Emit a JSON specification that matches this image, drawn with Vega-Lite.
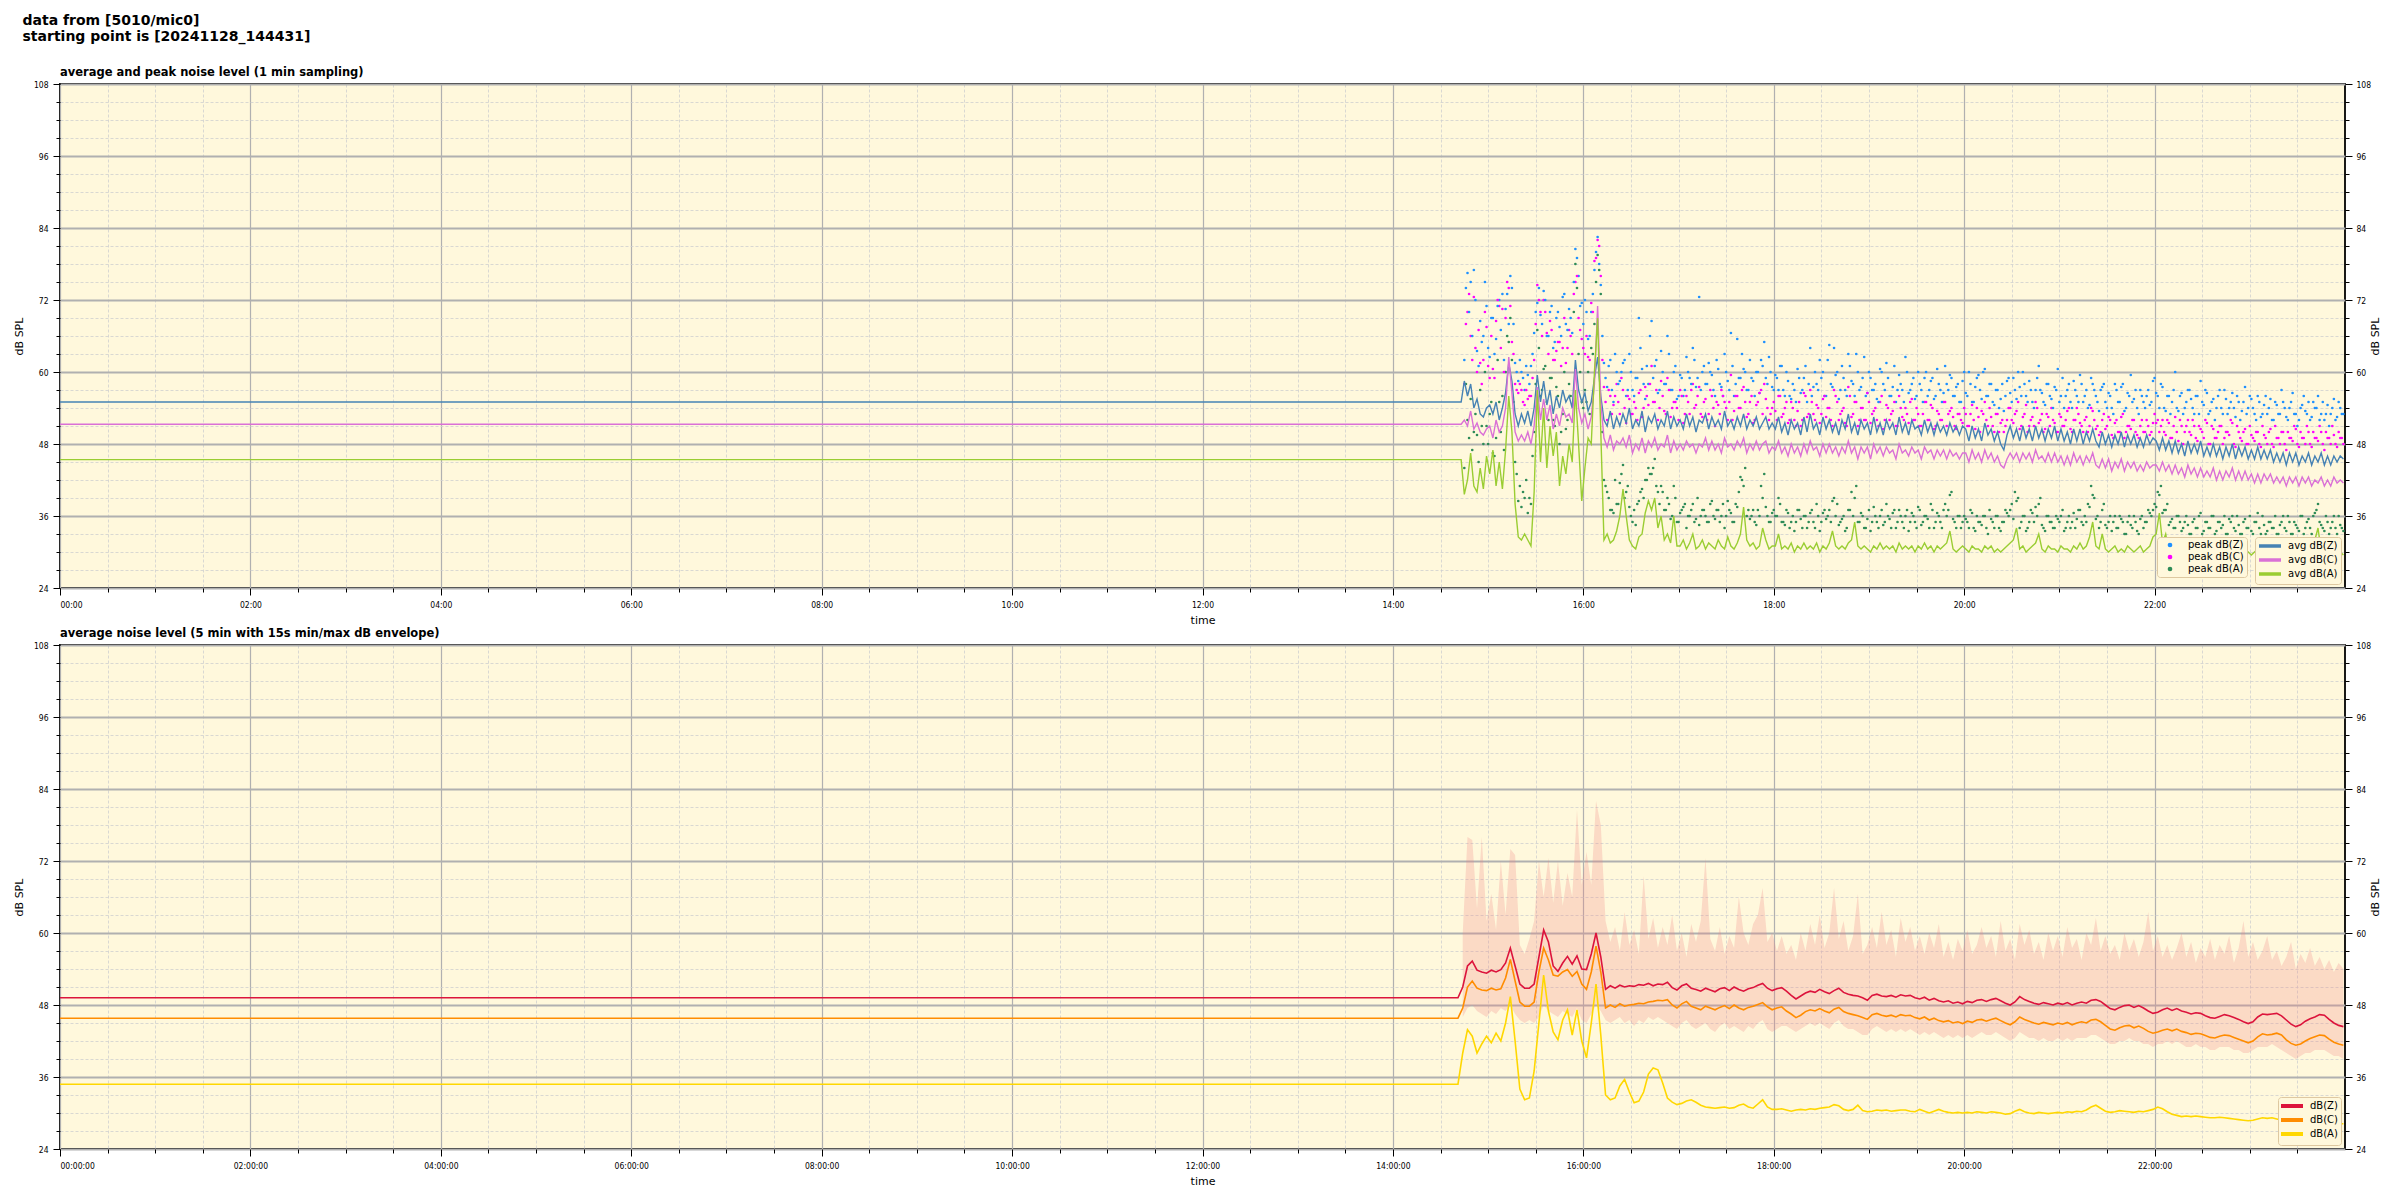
{
"$schema": "https://vega.github.io/schema/vega-lite/v6.json",
"padding": {"left": 12, "top": 13, "right": 5, "bottom": 5},
"background": "white",
"title": {"text": ["data from [5010/mic0]", "starting point is [20241128_144431]"], "anchor": "start", "frame": "bounds", "font": "DejaVu Sans", "fontSize": 14, "fontWeight": "bold", "lineHeight": 16, "dx": 10, "offset": 22, "color": "black"},
"spacing": -1,
"config": {
  "font": "DejaVu Sans",
  "view": {"fill": "#FFF8DC", "stroke": "black", "strokeWidth": 1.8},
  "axis": {"labelFont": "DejaVu Sans Condensed", "labelFontSize": 8.5, "labelColor": "black", "tickColor": "black", "titleFont": "DejaVu Sans", "titleFontWeight": "normal", "titleFontSize": 11, "titleColor": "black", "labelOverlap": false, "domain": false},
  "title": {"font": "DejaVu Sans", "fontSize": 11.5, "fontWeight": "bold", "anchor": "start", "color": "black", "offset": 2},
  "legend": {"labelFont": "DejaVu Sans", "labelFontSize": 10, "labelColor": "black", "fillColor": "#FFF8DC", "strokeColor": "#DEC8A0", "cornerRadius": 3, "padding": 3, "orient": "bottom-right", "offset": 4, "rowPadding": 0}
},
"datasets": {
"top": [
{"m":0,"z":55.0,"c":51.3,"a":45.4},{"m":883,"z":55.0,"c":51.3,"a":45.4},
{"m":885,"z":58.5,"c":52,"a":39.6,"pz":62,"pc":58,"pa":44},
{"m":887,"z":56,"c":51,"a":42,"pz":76.5,"pc":70,"pa":52},
{"m":889,"z":58,"c":53.5,"a":46.5,"pz":75,"pc":66,"pa":55.5},
{"m":891,"z":54,"c":50.5,"a":41,"pz":77,"pc":72.5,"pa":50},
{"m":893,"z":55.5,"c":51.5,"a":40,"pz":63.5,"pc":60,"pa":49.5},
{"m":895,"z":53,"c":50,"a":44,"pz":68.5,"pc":61.5,"pa":57},
{"m":897,"z":52.5,"c":49.5,"a":40.5,"pz":66,"pc":62,"pa":48},
{"m":899,"z":54,"c":50.5,"a":46,"pz":71,"pc":67.5,"pa":51},
{"m":901,"z":54.5,"c":51,"a":43,"pz":62.5,"pc":59,"pa":53},
{"m":903,"z":53,"c":49,"a":47,"pz":69,"pc":60.5,"pa":46.5},
{"m":905,"z":55,"c":52,"a":41,"pz":65.5,"pc":68.5,"pa":49},
{"m":907,"z":52,"c":50,"a":45,"pz":72,"pc":71,"pa":55},
{"m":909,"z":54,"c":51,"a":40.5,"pz":73,"pc":70.5,"pa":56},
{"m":911,"z":56.5,"c":54,"a":47,"pz":70.5,"pc":69,"pa":60},
{"m":913,"z":61.5,"c":62.5,"a":56,"pz":68,"pc":74,"pa":65},
{"m":915,"z":58.5,"c":56.5,"a":50,"pz":74,"pc":65,"pa":62},
{"m":917,"z":53,"c":50,"a":38,"pz":61.5,"pc":58,"pa":45},
{"m":919,"z":51,"c":48.5,"a":32.5,"pz":58.5,"pc":56.5,"pa":38.5},
{"m":921,"z":53,"c":49.5,"a":32,"pz":60,"pc":57,"pa":37.5},
{"m":923,"z":51.5,"c":48.5,"a":33,"pz":57,"pc":54.5,"pa":39},
{"m":925,"z":53.5,"c":50,"a":32,"pz":59.5,"pc":55.5,"pa":36.5},
{"m":927,"z":51,"c":48,"a":31,"pz":61,"pc":56,"pa":38},
{"m":929,"z":54,"c":51,"a":40,"pz":66.5,"pc":62,"pa":50},
{"m":931,"z":59.5,"c":57.5,"a":57,"pz":71.5,"pc":74.5,"pa":67},
{"m":933,"z":55,"c":52,"a":45,"pz":69.5,"pc":70,"pa":56},
{"m":935,"z":58.5,"c":55.5,"a":54,"pz":73.5,"pc":72,"pa":60.5},
{"m":937,"z":54.5,"c":52,"a":44,"pz":66,"pc":66.5,"pa":55},
{"m":939,"z":57,"c":54.5,"a":51,"pz":70,"pc":68.5,"pa":59},
{"m":941,"z":53,"c":50.5,"a":46,"pz":64,"pc":62,"pa":52},
{"m":943,"z":56,"c":53,"a":50,"pz":69,"pc":63.5,"pa":57.5},
{"m":945,"z":54,"c":51,"a":41,"pz":67.5,"pc":65,"pa":48},
{"m":947,"z":57,"c":54,"a":46,"pz":72.5,"pc":64,"pa":53},
{"m":949,"z":55,"c":52.5,"a":43,"pz":68,"pc":61.5,"pa":50.5},
{"m":951,"z":56,"c":53,"a":48,"pz":70.5,"pc":67,"pa":58},
{"m":953,"z":54,"c":51.5,"a":45,"pz":66.5,"pc":63,"pa":54.5},
{"m":955,"z":62,"c":60.5,"a":57,"pz":80.5,"pc":75,"pa":78},
{"m":957,"z":57,"c":54,"a":48,"pz":76,"pc":69,"pa":63},
{"m":959,"z":55,"c":51.5,"a":38.5,"pz":71.5,"pc":65.5,"pa":55},
{"m":961,"z":56.5,"c":53,"a":44,"pz":72,"pc":63,"pa":57},
{"m":963,"z":53.5,"c":50.5,"a":49,"pz":65.5,"pc":62.5,"pa":60},
{"m":965,"z":55,"c":52.5,"a":48,"pz":70,"pc":71.5,"pa":64},
{"m":967,"z":59,"c":58,"a":60,"pz":77,"pc":78.5,"pa":68},
{"m":969,"z":62.5,"c":71,"a":69,"pz":82.5,"pc":82,"pa":79.5},
{"m":971,"z":56,"c":55,"a":50,"pz":74.5,"pc":76,"pa":73},
{"m":973,"z":52,"c":49,"a":32,"pz":61.5,"pc":57.5,"pa":42},
{"m":975,"z":51,"c":47.5,"a":33,"pz":57.5,"pc":52,"pa":40},
{"m":977,"z":53.5,"c":49.5,"a":31.5,"pz":62,"pc":56,"pa":37},
{"m":979,"z":50.5,"c":47,"a":32,"pz":55,"pc":54.5,"pa":36.5},
{"m":981,"z":52.5,"c":48.5,"a":33.5,"pz":60,"pc":58,"pa":38},
{"m":983,"z":51,"c":48,"a":36,"pz":58.5,"pc":53,"pa":41.5},
{"m":985,"z":53,"c":49,"a":40.5,"pz":61.5,"pc":57,"pa":44.5},
{"m":987,"z":51.5,"c":47.5,"a":36,"pz":56,"pc":51.5,"pa":40},
{"m":989,"z":54,"c":49.5,"a":32,"pz":63,"pc":55.5,"pa":37.5},
{"m":991,"z":50.5,"c":46.5,"a":31,"pz":57,"pc":53,"pa":35},
{"m":993,"z":52,"c":48,"a":30.5,"pz":59,"pc":54,"pa":34.5},
{"m":995,"z":51,"c":47,"a":32.5,"pz":69,"pc":56.5,"pa":38.5},
{"m":997,"z":53.5,"c":49,"a":33,"pz":60.5,"pc":52.5,"pa":40.5},
{"m":999,"z":50,"c":46.5,"a":36.5,"pz":55.5,"pc":57.5,"pa":42},
{"m":1001,"z":52.5,"c":48.5,"a":38.5,"pz":58,"pc":54.5,"pa":44},
{"m":1003,"z":51.5,"c":47.5,"a":37,"pz":68.5,"pc":61,"pa":43},
{"m":1005,"z":53,"c":49,"a":39,"pz":61,"pc":55,"pa":45.5},
{"m":1007,"z":50.5,"c":47,"a":34,"pz":56.5,"pc":52,"pa":40},
{"m":1009,"z":52,"c":48,"a":36,"pz":63.5,"pc":58.5,"pa":41},
{"m":1011,"z":51,"c":47.5,"a":32,"pz":58,"pc":53.5,"pa":37},
{"m":1013,"z":53.5,"c":49.5,"a":33,"pz":66,"pc":59,"pa":39},
{"m":1015,"z":50.5,"c":46.5,"a":31.5,"pz":57,"pc":52.5,"pa":35.5},
{"m":1017,"z":52.5,"c":48.5,"a":36,"pz":60,"pc":55,"pa":41},
{"m":1019,"z":51,"c":47,"a":31,"pz":55.5,"pc":54,"pa":35},
{"m":1021,"z":52,"c":48,"a":31,"pz":59.5,"pc":57,"pa":36.5},
{"m":1023,"z":50.5,"c":47,"a":32,"pz":56,"pc":51.5,"pa":37.5},
{"m":1025,"z":53,"c":48.5,"a":30.5,"pz":62.5,"pc":56,"pa":34},
{"m":1027,"z":51,"c":47.5,"a":31.5,"pz":59,"pc":53,"pa":36},
{"m":1029,"z":52.5,"c":48,"a":33,"pz":64,"pc":58,"pa":38},
{"m":1031,"z":50,"c":46.5,"a":30.5,"pz":57.5,"pc":54.5,"pa":35.5},
{"m":1033,"z":52,"c":48,"a":31,"pz":72.5,"pc":57.5,"pa":34.5},
{"m":1035,"z":51.5,"c":47.5,"a":32,"pz":60,"pc":52.5,"pa":37},
{"m":1037,"z":53,"c":49,"a":30.5,"pz":58,"pc":55.5,"pa":36},
{"m":1039,"z":50.5,"c":47,"a":31.5,"pz":61.5,"pc":53,"pa":35},
{"m":1041,"z":52.5,"c":48.5,"a":31,"pz":59.5,"pc":56,"pa":38.5},
{"m":1043,"z":51,"c":47,"a":30.5,"pz":56,"pc":51,"pa":35.5},
{"m":1045,"z":52,"c":48,"a":32,"pz":60.5,"pc":54.5,"pa":37},
{"m":1047,"z":50.5,"c":46.5,"a":31,"pz":57.5,"pc":57,"pa":36},
{"m":1049,"z":53.5,"c":49,"a":30.5,"pz":63,"pc":55,"pa":34},
{"m":1051,"z":51,"c":47.5,"a":32.5,"pz":58.5,"pc":52,"pa":38.5},
{"m":1053,"z":52,"c":48,"a":31,"pz":66.5,"pc":59.5,"pa":36.5},
{"m":1055,"z":50.5,"c":47,"a":30.5,"pz":56,"pc":53.5,"pa":35},
{"m":1057,"z":52.5,"c":48.5,"a":31.5,"pz":65.5,"pc":56,"pa":37.5},
{"m":1059,"z":51,"c":47.5,"a":33,"pz":59,"pc":54,"pa":42.5},
{"m":1061,"z":53,"c":49,"a":37.5,"pz":60.5,"pc":57.5,"pa":41},
{"m":1063,"z":50.5,"c":46.5,"a":32,"pz":57,"pc":52.5,"pa":36},
{"m":1065,"z":52,"c":48,"a":31,"pz":62,"pc":55,"pa":35.5},
{"m":1067,"z":51,"c":47,"a":31.5,"pz":58.5,"pc":51.5,"pa":37},
{"m":1069,"z":52.5,"c":48.5,"a":30.5,"pz":60,"pc":54.5,"pa":34.5},
{"m":1071,"z":50.5,"c":47,"a":31,"pz":56.5,"pc":56.5,"pa":36},
{"m":1073,"z":51.5,"c":48,"a":34,"pz":61,"pc":53,"pa":39},
{"m":1075,"z":52.5,"c":48.5,"a":32,"pz":59,"pc":55.5,"pa":37.5},
{"m":1077,"z":50.5,"c":46.5,"a":30.5,"pz":62.5,"pc":52,"pa":35},
{"m":1079,"z":51.5,"c":47.5,"a":31,"pz":57.5,"pc":54,"pa":36.5},
{"m":1081,"z":50.5,"c":47,"a":31,"pz":59.5,"pc":53.5,"pa":36},
{"m":1083,"z":52.5,"c":48.5,"a":33,"pz":57,"pc":56,"pa":39},
{"m":1085,"z":50,"c":46.5,"a":30.5,"pz":61,"pc":52.5,"pa":35},
{"m":1087,"z":51.5,"c":47.5,"a":31,"pz":56,"pc":54,"pa":34.5},
{"m":1089,"z":49.5,"c":46,"a":30.5,"pz":58.5,"pc":51.5,"pa":36.5},
{"m":1091,"z":52,"c":48,"a":31.5,"pz":55.5,"pc":55,"pa":35},
{"m":1093,"z":50.5,"c":46.5,"a":30,"pz":57,"pc":52,"pa":33.5},
{"m":1095,"z":51.5,"c":47.5,"a":31,"pz":60.5,"pc":53.5,"pa":37},
{"m":1097,"z":49.5,"c":46,"a":30.5,"pz":56.5,"pc":51,"pa":35.5},
{"m":1099,"z":52.5,"c":48,"a":31.5,"pz":59,"pc":56.5,"pa":36},
{"m":1101,"z":50,"c":46.5,"a":30.5,"pz":55,"pc":52.5,"pa":34},
{"m":1103,"z":53,"c":48.5,"a":31,"pz":64,"pc":57,"pa":36.5},
{"m":1105,"z":50.5,"c":47,"a":30.5,"pz":57.5,"pc":53,"pa":35},
{"m":1107,"z":51.5,"c":47.5,"a":31.5,"pz":58,"pc":54.5,"pa":38},
{"m":1109,"z":49.5,"c":46,"a":30,"pz":62,"pc":51.5,"pa":33.5},
{"m":1111,"z":52.5,"c":48,"a":31,"pz":60,"pc":55.5,"pa":36.5},
{"m":1113,"z":50.5,"c":46.5,"a":30.5,"pz":56,"pc":52.5,"pa":35.5},
{"m":1115,"z":52,"c":48,"a":31.5,"pz":64.5,"pc":54,"pa":37},
{"m":1117,"z":50,"c":46.5,"a":33.5,"pz":57.5,"pc":51,"pa":38.5},
{"m":1119,"z":51.5,"c":47.5,"a":31,"pz":59.5,"pc":56,"pa":36},
{"m":1121,"z":49.5,"c":46,"a":30.5,"pz":55.5,"pc":52,"pa":34.5},
{"m":1123,"z":52,"c":47.5,"a":31,"pz":61,"pc":53.5,"pa":35.5},
{"m":1125,"z":50.5,"c":46.5,"a":30.5,"pz":57,"pc":51.5,"pa":33.5},
{"m":1127,"z":53,"c":48.5,"a":31.5,"pz":63,"pc":57.5,"pa":37},
{"m":1129,"z":50,"c":46.5,"a":32,"pz":58.5,"pc":52.5,"pa":40},
{"m":1131,"z":51.5,"c":47.5,"a":35,"pz":56,"pc":55,"pa":39},
{"m":1133,"z":49.5,"c":45.5,"a":31,"pz":60,"pc":51,"pa":35},
{"m":1135,"z":52,"c":47.5,"a":30.5,"pz":57.5,"pc":54,"pa":36.5},
{"m":1137,"z":50.5,"c":46.5,"a":31,"pz":62.5,"pc":52,"pa":34},
{"m":1139,"z":51.5,"c":47.5,"a":30.5,"pz":56.5,"pc":56.5,"pa":35.5},
{"m":1141,"z":49.5,"c":45.5,"a":30,"pz":59,"pc":51.5,"pa":33.5},
{"m":1143,"z":52.5,"c":48,"a":31,"pz":57,"pc":53.5,"pa":37.5},
{"m":1145,"z":50,"c":46.5,"a":30.5,"pz":55.5,"pc":52,"pa":35},
{"m":1147,"z":51.5,"c":47.5,"a":31.5,"pz":60.5,"pc":55,"pa":36},
{"m":1149,"z":49.5,"c":46,"a":30.5,"pz":58,"pc":50.5,"pa":34.5},
{"m":1151,"z":52,"c":47.5,"a":31,"pz":61.5,"pc":54.5,"pa":38},
{"m":1153,"z":50.5,"c":46.5,"a":30.5,"pz":56,"pc":52,"pa":35.5},
{"m":1155,"z":51.5,"c":47,"a":31,"pz":57.5,"pc":53.5,"pa":36.5},
{"m":1157,"z":49.5,"c":45.5,"a":30,"pz":55,"pc":51,"pa":34},
{"m":1159,"z":52.5,"c":48,"a":31.5,"pz":59.5,"pc":56,"pa":37},
{"m":1161,"z":50,"c":46.5,"a":30.5,"pz":57,"pc":52.5,"pa":35},
{"m":1163,"z":51.5,"c":47,"a":31,"pz":62.5,"pc":54,"pa":36},
{"m":1165,"z":49.5,"c":46,"a":30.5,"pz":56.5,"pc":51.5,"pa":33.5},
{"m":1167,"z":52,"c":47.5,"a":31,"pz":58,"pc":55.5,"pa":36.5},
{"m":1169,"z":50.5,"c":46.5,"a":30,"pz":55.5,"pc":52,"pa":35},
{"m":1171,"z":51,"c":47,"a":31,"pz":60,"pc":53,"pa":37.5},
{"m":1173,"z":49.5,"c":45.5,"a":30.5,"pz":57,"pc":51,"pa":34.5},
{"m":1175,"z":52,"c":47.5,"a":31.5,"pz":59,"pc":55,"pa":36},
{"m":1177,"z":50,"c":46.5,"a":30.5,"pz":56,"pc":52,"pa":35.5},
{"m":1179,"z":51.5,"c":47,"a":31,"pz":58.5,"pc":54.5,"pa":38},
{"m":1181,"z":49.5,"c":45.5,"a":30,"pz":55.5,"pc":50.5,"pa":34},
{"m":1183,"z":51.5,"c":47,"a":31,"pz":60.5,"pc":53.5,"pa":36.5},
{"m":1185,"z":50,"c":46,"a":30.5,"pz":57,"pc":52,"pa":35},
{"m":1187,"z":51,"c":47,"a":31,"pz":56.5,"pc":55,"pa":37},
{"m":1189,"z":49.5,"c":45.5,"a":31.5,"pz":58,"pc":51,"pa":36},
{"m":1191,"z":51.5,"c":47,"a":33.5,"pz":59.5,"pc":53.5,"pa":39.5},
{"m":1193,"z":50,"c":46,"a":30.5,"pz":56,"pc":52.5,"pa":35.5},
{"m":1195,"z":51,"c":46.5,"a":30,"pz":57.5,"pc":50.5,"pa":34},
{"m":1197,"z":49.5,"c":45.5,"a":30.5,"pz":55,"pc":53,"pa":36},
{"m":1199,"z":51,"c":46.5,"a":31,"pz":58.5,"pc":51.5,"pa":35},
{"m":1201,"z":50.5,"c":46.5,"a":30.5,"pz":56.5,"pc":53,"pa":35.5},
{"m":1203,"z":48.5,"c":45,"a":30,"pz":60,"pc":51,"pa":34},
{"m":1205,"z":51,"c":47,"a":31,"pz":55,"pc":54.5,"pa":36.5},
{"m":1207,"z":49,"c":45.5,"a":30.5,"pz":57.5,"pc":50.5,"pa":33.5},
{"m":1209,"z":50.5,"c":46.5,"a":30.5,"pz":59.5,"pc":52.5,"pa":35},
{"m":1211,"z":48.5,"c":45,"a":30,"pz":55.5,"pc":53.5,"pa":34.5},
{"m":1213,"z":51.5,"c":47,"a":31,"pz":60.5,"pc":55,"pa":36},
{"m":1215,"z":49.5,"c":45.5,"a":30.5,"pz":56,"pc":51,"pa":33},
{"m":1217,"z":50.5,"c":46.5,"a":31,"pz":58,"pc":52.5,"pa":35.5},
{"m":1219,"z":48.5,"c":45,"a":30,"pz":54.5,"pc":50,"pa":34},
{"m":1221,"z":50,"c":46,"a":30.5,"pz":57,"pc":53,"pa":36},
{"m":1223,"z":48,"c":44.5,"a":30,"pz":55.5,"pc":51.5,"pa":33.5},
{"m":1225,"z":47,"c":44,"a":30.5,"pz":53.5,"pc":50,"pa":35},
{"m":1227,"z":49.5,"c":45.5,"a":31,"pz":58.5,"pc":52,"pa":36.5},
{"m":1229,"z":51,"c":46.5,"a":31.5,"pz":56.5,"pc":54,"pa":37},
{"m":1231,"z":49,"c":45.5,"a":32,"pz":59,"pc":51.5,"pa":35.5},
{"m":1233,"z":50.5,"c":46.5,"a":34,"pz":55.5,"pc":53.5,"pa":38.5},
{"m":1235,"z":48.5,"c":45,"a":30.5,"pz":57.5,"pc":50.5,"pa":34},
{"m":1237,"z":51,"c":46.5,"a":31,"pz":60,"pc":52.5,"pa":36},
{"m":1239,"z":49,"c":45.5,"a":30,"pz":56,"pc":54.5,"pa":33.5},
{"m":1241,"z":50.5,"c":46.5,"a":30.5,"pz":58.5,"pc":51,"pa":35},
{"m":1243,"z":48.5,"c":45,"a":31,"pz":55,"pc":52.5,"pa":36.5},
{"m":1245,"z":51,"c":47,"a":31.5,"pz":57,"pc":55,"pa":37.5},
{"m":1247,"z":49,"c":45.5,"a":33,"pz":61,"pc":51.5,"pa":38},
{"m":1249,"z":50.5,"c":46,"a":30.5,"pz":56.5,"pc":53,"pa":34.5},
{"m":1251,"z":48.5,"c":45,"a":30,"pz":54.5,"pc":50.5,"pa":33.5},
{"m":1253,"z":50.5,"c":46.5,"a":31,"pz":58,"pc":52.5,"pa":36},
{"m":1255,"z":49,"c":45,"a":30.5,"pz":55.5,"pc":54,"pa":35},
{"m":1257,"z":51,"c":46.5,"a":30.5,"pz":57.5,"pc":51.5,"pa":34},
{"m":1259,"z":48.5,"c":45,"a":30,"pz":60.5,"pc":50,"pa":35.5},
{"m":1261,"z":50.5,"c":46,"a":31,"pz":56,"pc":52.5,"pa":36},
{"m":1263,"z":48.5,"c":44.5,"a":30.5,"pz":54,"pc":51,"pa":33.5},
{"m":1265,"z":50,"c":46,"a":30.5,"pz":57,"pc":53.5,"pa":35},
{"m":1267,"z":48,"c":44.5,"a":30,"pz":55,"pc":50.5,"pa":34},
{"m":1269,"z":50.5,"c":46.5,"a":31,"pz":58.5,"pc":52,"pa":36.5},
{"m":1271,"z":48.5,"c":45,"a":30.5,"pz":56,"pc":54,"pa":35.5},
{"m":1273,"z":50.5,"c":46,"a":31.5,"pz":59.5,"pc":51.5,"pa":37},
{"m":1275,"z":48,"c":44.5,"a":30.5,"pz":55,"pc":50,"pa":34.5},
{"m":1277,"z":50,"c":46,"a":31,"pz":57,"pc":52.5,"pa":35},
{"m":1279,"z":48.5,"c":45,"a":32.5,"pz":54.5,"pc":51,"pa":37.5},
{"m":1281,"z":50.5,"c":46.5,"a":35,"pz":58,"pc":53.5,"pa":39.5},
{"m":1283,"z":48.5,"c":44.5,"a":31,"pz":56,"pc":50.5,"pa":35.5},
{"m":1285,"z":47.5,"c":44,"a":30.5,"pz":53.5,"pc":49.5,"pa":34},
{"m":1287,"z":50,"c":45.5,"a":33,"pz":57.5,"pc":52,"pa":37},
{"m":1289,"z":48,"c":44,"a":30.5,"pz":55,"pc":50.5,"pa":34.5},
{"m":1291,"z":49.5,"c":45.5,"a":30,"pz":56.5,"pc":52.5,"pa":35},
{"m":1293,"z":47.5,"c":43.5,"a":30.5,"pz":54,"pc":49.5,"pa":33.5},
{"m":1295,"z":49.5,"c":45,"a":31,"pz":58,"pc":51.5,"pa":36},
{"m":1297,"z":48,"c":44,"a":30,"pz":55,"pc":50,"pa":34},
{"m":1299,"z":50,"c":45.5,"a":30.5,"pz":57.5,"pc":52.5,"pa":35.5},
{"m":1301,"z":47.5,"c":43.5,"a":30,"pz":53.5,"pc":49,"pa":33},
{"m":1303,"z":49.5,"c":45,"a":31,"pz":56.5,"pc":51,"pa":35},
{"m":1305,"z":48,"c":44,"a":30.5,"pz":59.5,"pc":50.5,"pa":34.5},
{"m":1307,"z":49.5,"c":45,"a":30,"pz":55.5,"pc":52,"pa":36},
{"m":1309,"z":47.5,"c":43.5,"a":30.5,"pz":54,"pc":49.5,"pa":33.5},
{"m":1311,"z":49,"c":44.5,"a":31,"pz":57,"pc":51,"pa":35.5},
{"m":1313,"z":47.5,"c":43.5,"a":30,"pz":55,"pc":50,"pa":34},
{"m":1315,"z":49.5,"c":45,"a":30.5,"pz":56,"pc":52,"pa":35},
{"m":1317,"z":48,"c":44,"a":31,"pz":54.5,"pc":49.5,"pa":36.5},
{"m":1319,"z":49,"c":44.5,"a":32.5,"pz":58.5,"pc":51.5,"pa":37},
{"m":1321,"z":48.5,"c":44.5,"a":33,"pz":56.5,"pc":51.5,"pa":37.5},
{"m":1323,"z":47,"c":43.5,"a":36.5,"pz":54,"pc":50,"pa":39.5},
{"m":1325,"z":49,"c":45,"a":31.5,"pz":57.5,"pc":52,"pa":36.5},
{"m":1327,"z":47,"c":43.5,"a":33,"pz":53.5,"pc":49.5,"pa":37},
{"m":1329,"z":48.5,"c":44.5,"a":30,"pz":56,"pc":51.5,"pa":34.5},
{"m":1331,"z":46.5,"c":43,"a":30.5,"pz":55,"pc":49,"pa":35.5},
{"m":1333,"z":48.5,"c":44.5,"a":30,"pz":60,"pc":52.5,"pa":34},
{"m":1335,"z":46.5,"c":43,"a":30.5,"pz":53.5,"pc":48.5,"pa":36},
{"m":1337,"z":48,"c":44,"a":29.5,"pz":56.5,"pc":51,"pa":33.5},
{"m":1339,"z":46,"c":42.5,"a":30,"pz":54,"pc":50,"pa":35},
{"m":1341,"z":48.5,"c":44.5,"a":30.5,"pz":57,"pc":52,"pa":34.5},
{"m":1343,"z":46.5,"c":43,"a":29.5,"pz":55.5,"pc":49.5,"pa":33},
{"m":1345,"z":48,"c":44,"a":30,"pz":53,"pc":51,"pa":35.5},
{"m":1347,"z":46.5,"c":42.5,"a":30.5,"pz":56,"pc":48.5,"pa":34},
{"m":1349,"z":48.5,"c":44,"a":30,"pz":58.5,"pc":50.5,"pa":36.5},
{"m":1351,"z":46,"c":42.5,"a":29.5,"pz":54.5,"pc":49,"pa":33.5},
{"m":1353,"z":47.5,"c":43.5,"a":30.5,"pz":56.5,"pc":51.5,"pa":35},
{"m":1355,"z":46,"c":42.5,"a":30,"pz":53.5,"pc":48,"pa":34},
{"m":1357,"z":48,"c":44,"a":30.5,"pz":55.5,"pc":50.5,"pa":36},
{"m":1359,"z":46,"c":42,"a":29.5,"pz":54,"pc":49,"pa":33.5},
{"m":1361,"z":47.5,"c":43.5,"a":30,"pz":57,"pc":51,"pa":35},
{"m":1363,"z":45.5,"c":42,"a":30.5,"pz":53,"pc":48,"pa":34.5},
{"m":1365,"z":47.5,"c":43.5,"a":29.5,"pz":55.5,"pc":50,"pa":33},
{"m":1367,"z":46,"c":42.5,"a":30,"pz":54,"pc":49.5,"pa":35.5},
{"m":1369,"z":48,"c":44,"a":30.5,"pz":56.5,"pc":51.5,"pa":36},
{"m":1371,"z":45.5,"c":42,"a":29.5,"pz":52.5,"pc":47.5,"pa":33.5},
{"m":1373,"z":47.5,"c":43.5,"a":30,"pz":55,"pc":50,"pa":34.5},
{"m":1375,"z":46,"c":42,"a":29.5,"pz":53.5,"pc":48.5,"pa":33},
{"m":1377,"z":47.5,"c":43.5,"a":30.5,"pz":57.5,"pc":50.5,"pa":35.5},
{"m":1379,"z":45.5,"c":42,"a":30,"pz":54,"pc":48,"pa":34},
{"m":1381,"z":47,"c":43,"a":29.5,"pz":55.5,"pc":49.5,"pa":33.5},
{"m":1383,"z":45.5,"c":41.5,"a":30,"pz":53,"pc":48.5,"pa":35},
{"m":1385,"z":47.5,"c":43,"a":30.5,"pz":56,"pc":50,"pa":36.5},
{"m":1387,"z":45.5,"c":41.5,"a":29.5,"pz":52.5,"pc":47.5,"pa":33},
{"m":1389,"z":47,"c":43,"a":30,"pz":54.5,"pc":49.5,"pa":34.5},
{"m":1391,"z":45.5,"c":42,"a":29.5,"pz":53,"pc":48,"pa":33.5},
{"m":1393,"z":47,"c":43,"a":30,"pz":55.5,"pc":50.5,"pa":35},
{"m":1395,"z":45,"c":41.5,"a":29.5,"pz":52,"pc":47.5,"pa":34},
{"m":1397,"z":46.5,"c":42.5,"a":30,"pz":54.5,"pc":49,"pa":33},
{"m":1399,"z":45,"c":41.5,"a":29.5,"pz":53,"pc":48,"pa":34.5},
{"m":1401,"z":46.5,"c":42.5,"a":30.5,"pz":55,"pc":50,"pa":36},
{"m":1403,"z":44.5,"c":41,"a":29.5,"pz":52.5,"pc":47,"pa":33.5},
{"m":1405,"z":46.5,"c":42.5,"a":30,"pz":54,"pc":49,"pa":35},
{"m":1407,"z":45,"c":41.5,"a":29.5,"pz":56.5,"pc":48.5,"pa":33},
{"m":1409,"z":46.5,"c":42.5,"a":30,"pz":53,"pc":50.5,"pa":34.5},
{"m":1411,"z":44.5,"c":41,"a":29.5,"pz":52,"pc":47.5,"pa":33.5},
{"m":1413,"z":46,"c":42.5,"a":30.5,"pz":54.5,"pc":49,"pa":36},
{"m":1415,"z":45,"c":41.5,"a":29.5,"pz":53.5,"pc":48,"pa":34},
{"m":1417,"z":46.5,"c":42.5,"a":30,"pz":55,"pc":50,"pa":35.5},
{"m":1419,"z":44.5,"c":41,"a":30.5,"pz":52.5,"pc":47.5,"pa":33},
{"m":1421,"z":46,"c":42,"a":32,"pz":54,"pc":49,"pa":36.5},
{"m":1423,"z":45,"c":41.5,"a":34,"pz":56,"pc":48.5,"pa":38},
{"m":1425,"z":46.5,"c":42.5,"a":30,"pz":53,"pc":50,"pa":34.5},
{"m":1427,"z":44.5,"c":41,"a":29.5,"pz":52,"pc":47,"pa":33.5},
{"m":1429,"z":46,"c":42,"a":30,"pz":54.5,"pc":49,"pa":35},
{"m":1431,"z":44.5,"c":41,"a":29.5,"pz":53,"pc":48,"pa":34},
{"m":1433,"z":46,"c":42.5,"a":30,"pz":55.5,"pc":49.5,"pa":36},
{"m":1435,"z":45,"c":41.5,"a":29.5,"pz":52.5,"pc":47.5,"pa":33},
{"m":1437,"z":46,"c":42,"a":30,"pz":54,"pc":49,"pa":34.5},
{"m":1439,"z":45.5,"c":41.5,"a":29.5,"pz":53,"pc":48,"pa":33.5}
],
"pk2": [
{"m":886,"pz":74,"pc":68,"pa":58},{"m":888,"pz":70,"pc":73,"pa":49},{"m":890,"pz":66,"pc":62,"pa":47},{"m":892,"pz":72,"pc":64,"pa":53},
{"m":894,"pz":61,"pc":67,"pa":45},{"m":896,"pz":65,"pc":58,"pa":51},{"m":898,"pz":75,"pc":70,"pa":60},{"m":900,"pz":64,"pc":61,"pa":48},
{"m":902,"pz":69,"pc":66,"pa":55},{"m":904,"pz":63,"pc":59,"pa":46},{"m":906,"pz":71,"pc":72,"pa":62},{"m":908,"pz":67,"pc":64,"pa":50},
{"m":910,"pz":62,"pc":60,"pa":47},{"m":912,"pz":73,"pc":75,"pa":66},{"m":914,"pz":76,"pc":71,"pa":69},{"m":916,"pz":68,"pc":63,"pa":55},
{"m":918,"pz":60,"pc":57,"pa":43},{"m":920,"pz":62,"pc":58,"pa":41},{"m":922,"pz":59,"pc":55,"pa":40},{"m":924,"pz":61,"pc":57,"pa":42},
{"m":926,"pz":58,"pc":56,"pa":39},{"m":928,"pz":63,"pc":59,"pa":46},{"m":930,"pz":70,"pc":68,"pa":58},{"m":932,"pz":74,"pc":72,"pa":64},
{"m":934,"pz":68,"pc":66,"pa":57},{"m":936,"pz":72,"pc":70,"pa":61},{"m":938,"pz":66,"pc":63,"pa":52},{"m":940,"pz":71,"pc":67,"pa":59},
{"m":942,"pz":65,"pc":62,"pa":51},{"m":944,"pz":70,"pc":65,"pa":56},{"m":946,"pz":66,"pc":61,"pa":50},{"m":948,"pz":73,"pc":69,"pa":60},
{"m":950,"pz":67,"pc":64,"pa":52},{"m":952,"pz":69,"pc":66,"pa":56},{"m":954,"pz":75,"pc":73,"pa":70},{"m":956,"pz":79,"pc":76,"pa":74},
{"m":958,"pz":71,"pc":67,"pa":60},{"m":960,"pz":68,"pc":64,"pa":54},{"m":962,"pz":70,"pc":66,"pa":55},{"m":964,"pz":66,"pc":62,"pa":53},
{"m":966,"pz":73,"pc":70,"pa":63},{"m":968,"pz":80,"pc":79,"pa":75},{"m":970,"pz":78,"pc":81,"pa":77},{"m":972,"pz":66,"pc":62,"pa":50},
{"m":974,"pz":59,"pc":55,"pa":41},{"m":976,"pz":61,"pc":57,"pa":39},{"m":978,"pz":57,"pc":53,"pa":37},{"m":980,"pz":63,"pc":56,"pa":42},
{"m":982,"pz":58,"pc":55,"pa":38},{"m":984,"pz":60,"pc":59,"pa":43},{"m":986,"pz":62,"pc":54,"pa":39},{"m":988,"pz":57,"pc":56,"pa":41},
{"m":990,"pz":60,"pc":53,"pa":36},{"m":992,"pz":56,"pc":55,"pa":37},{"m":994,"pz":59,"pc":52,"pa":38},{"m":996,"pz":64,"pc":57,"pa":40},
{"m":998,"pz":58,"pc":54,"pa":39},{"m":1000,"pz":61,"pc":56,"pa":42},{"m":1002,"pz":66,"pc":58,"pa":43},{"m":1004,"pz":59,"pc":55,"pa":44},
{"m":1006,"pz":62,"pc":57,"pa":41},{"m":1008,"pz":57,"pc":54,"pa":38},{"m":1010,"pz":60,"pc":56,"pa":40},{"m":1012,"pz":58,"pc":53,"pa":37},
{"m":1014,"pz":63,"pc":57,"pa":38},{"m":1016,"pz":57,"pc":54,"pa":36},{"m":1018,"pz":61,"pc":55,"pa":39},{"m":1020,"pz":56,"pc":52,"pa":35},
{"m":1022,"pz":59,"pc":56,"pa":37},{"m":1024,"pz":57,"pc":53,"pa":38},{"m":1026,"pz":60,"pc":55,"pa":36},{"m":1028,"pz":58,"pc":57,"pa":37},
{"m":1030,"pz":62,"pc":54,"pa":35},{"m":1032,"pz":59,"pc":56,"pa":39},{"m":1034,"pz":57,"pc":53,"pa":36},{"m":1036,"pz":61,"pc":55,"pa":37},
{"m":1038,"pz":58,"pc":52,"pa":35},{"m":1040,"pz":60,"pc":57,"pa":38},{"m":1042,"pz":57,"pc":54,"pa":36},{"m":1044,"pz":62,"pc":55,"pa":37},
{"m":1046,"pz":58,"pc":53,"pa":35},{"m":1048,"pz":56,"pc":56,"pa":38},{"m":1050,"pz":60,"pc":54,"pa":36},{"m":1052,"pz":57,"pc":55,"pa":37},
{"m":1054,"pz":61,"pc":52,"pa":35},{"m":1056,"pz":58,"pc":56,"pa":38},{"m":1058,"pz":59,"pc":54,"pa":40},{"m":1060,"pz":63,"pc":57,"pa":42},
{"m":1062,"pz":60,"pc":55,"pa":44},{"m":1064,"pz":57,"pc":53,"pa":37},{"m":1066,"pz":59,"pc":56,"pa":36},{"m":1068,"pz":56,"pc":52,"pa":35},
{"m":1070,"pz":60,"pc":55,"pa":37},{"m":1072,"pz":62,"pc":57,"pa":41},{"m":1074,"pz":65,"pc":58,"pa":43},{"m":1076,"pz":58,"pc":54,"pa":36},
{"m":1078,"pz":60,"pc":53,"pa":35},{"m":1080,"pz":57,"pc":55,"pa":37},{"m":1082,"pz":59,"pc":52,"pa":36},{"m":1084,"pz":61,"pc":56,"pa":38},
{"m":1086,"pz":57,"pc":53,"pa":35},{"m":1088,"pz":60,"pc":55,"pa":37},{"m":1090,"pz":56,"pc":52,"pa":34},{"m":1092,"pz":58,"pc":54,"pa":36},
{"m":1094,"pz":55,"pc":51,"pa":35},{"m":1096,"pz":59,"pc":55,"pa":37},{"m":1098,"pz":57,"pc":52,"pa":34},{"m":1100,"pz":61,"pc":56,"pa":36},
{"m":1102,"pz":58,"pc":53,"pa":35},{"m":1104,"pz":56,"pc":55,"pa":37},{"m":1106,"pz":60,"pc":52,"pa":34},{"m":1108,"pz":57,"pc":54,"pa":36},
{"m":1110,"pz":59,"pc":53,"pa":35},{"m":1112,"pz":56,"pc":56,"pa":37},{"m":1114,"pz":62,"pc":54,"pa":36},{"m":1116,"pz":58,"pc":52,"pa":35},
{"m":1118,"pz":64,"pc":57,"pa":39},{"m":1120,"pz":60,"pc":55,"pa":38},{"m":1122,"pz":57,"pc":53,"pa":35},{"m":1124,"pz":59,"pc":54,"pa":36},
{"m":1126,"pz":56,"pc":51,"pa":34},{"m":1128,"pz":61,"pc":56,"pa":37},{"m":1130,"pz":58,"pc":53,"pa":36},{"m":1132,"pz":63,"pc":55,"pa":41},
{"m":1134,"pz":57,"pc":52,"pa":35},{"m":1136,"pz":59,"pc":54,"pa":36},{"m":1138,"pz":56,"pc":52,"pa":34},{"m":1140,"pz":60,"pc":55,"pa":37},
{"m":1142,"pz":57,"pc":53,"pa":35},{"m":1144,"pz":58,"pc":54,"pa":36},{"m":1146,"pz":55,"pc":51,"pa":34},{"m":1148,"pz":60,"pc":56,"pa":37},
{"m":1150,"pz":57,"pc":52,"pa":35},{"m":1152,"pz":59,"pc":54,"pa":36},{"m":1154,"pz":56,"pc":53,"pa":34},{"m":1156,"pz":61,"pc":55,"pa":37},
{"m":1158,"pz":57,"pc":51,"pa":35},{"m":1160,"pz":58,"pc":54,"pa":36},{"m":1162,"pz":55,"pc":52,"pa":34},{"m":1164,"pz":60,"pc":53,"pa":37},
{"m":1166,"pz":57,"pc":55,"pa":35},{"m":1168,"pz":59,"pc":52,"pa":36},{"m":1170,"pz":56,"pc":54,"pa":34},{"m":1172,"pz":58,"pc":51,"pa":37},
{"m":1174,"pz":55,"pc":53,"pa":35},{"m":1176,"pz":60,"pc":55,"pa":36},{"m":1178,"pz":57,"pc":52,"pa":34},{"m":1180,"pz":59,"pc":54,"pa":37},
{"m":1182,"pz":56,"pc":51,"pa":35},{"m":1184,"pz":58,"pc":53,"pa":36},{"m":1186,"pz":55,"pc":52,"pa":34},{"m":1188,"pz":61,"pc":55,"pa":38},
{"m":1190,"pz":57,"pc":53,"pa":37},{"m":1192,"pz":59,"pc":54,"pa":40},{"m":1194,"pz":56,"pc":51,"pa":35},{"m":1196,"pz":58,"pc":53,"pa":36},
{"m":1198,"pz":55,"pc":52,"pa":34},{"m":1200,"pz":60,"pc":54,"pa":36},{"m":1202,"pz":56,"pc":51,"pa":35},{"m":1204,"pz":58,"pc":53,"pa":37},
{"m":1206,"pz":55,"pc":52,"pa":34},{"m":1208,"pz":59,"pc":54,"pa":36},{"m":1210,"pz":57,"pc":50,"pa":35},{"m":1212,"pz":60,"pc":53,"pa":36},
{"m":1214,"pz":56,"pc":52,"pa":34},{"m":1216,"pz":58,"pc":54,"pa":37},{"m":1218,"pz":55,"pc":51,"pa":35},{"m":1220,"pz":57,"pc":53,"pa":36},
{"m":1222,"pz":54,"pc":50,"pa":34},{"m":1224,"pz":58,"pc":52,"pa":35},{"m":1226,"pz":56,"pc":51,"pa":37},{"m":1228,"pz":59,"pc":54,"pa":36},
{"m":1230,"pz":55,"pc":52,"pa":38},{"m":1232,"pz":57,"pc":53,"pa":40},{"m":1234,"pz":60,"pc":55,"pa":39},{"m":1236,"pz":56,"pc":51,"pa":35},
{"m":1238,"pz":58,"pc":53,"pa":36},{"m":1240,"pz":55,"pc":50,"pa":34},{"m":1242,"pz":57,"pc":52,"pa":37},{"m":1244,"pz":54,"pc":51,"pa":35},
{"m":1246,"pz":59,"pc":54,"pa":36},{"m":1248,"pz":57,"pc":52,"pa":39},{"m":1250,"pz":55,"pc":50,"pa":34},{"m":1252,"pz":58,"pc":53,"pa":36},
{"m":1254,"pz":56,"pc":51,"pa":35},{"m":1256,"pz":54,"pc":52,"pa":34},{"m":1258,"pz":57,"pc":50,"pa":36},{"m":1260,"pz":55,"pc":53,"pa":35},
{"m":1262,"pz":59,"pc":51,"pa":37},{"m":1264,"pz":56,"pc":52,"pa":34},{"m":1266,"pz":58,"pc":54,"pa":36},{"m":1268,"pz":54,"pc":50,"pa":35},
{"m":1270,"pz":57,"pc":52,"pa":34},{"m":1272,"pz":55,"pc":53,"pa":37},{"m":1274,"pz":58,"pc":51,"pa":35},{"m":1276,"pz":56,"pc":52,"pa":36},
{"m":1278,"pz":54,"pc":50,"pa":38},{"m":1280,"pz":59,"pc":54,"pa":41},{"m":1282,"pz":57,"pc":52,"pa":39},{"m":1284,"pz":55,"pc":51,"pa":36},
{"m":1286,"pz":57,"pc":50,"pa":35},{"m":1288,"pz":58,"pc":53,"pa":38},{"m":1290,"pz":54,"pc":51,"pa":34},{"m":1292,"pz":56,"pc":52,"pa":36},
{"m":1294,"pz":53,"pc":49,"pa":35},{"m":1296,"pz":57,"pc":52,"pa":34},{"m":1298,"pz":55,"pc":50,"pa":36},{"m":1300,"pz":58,"pc":53,"pa":35},
{"m":1302,"pz":54,"pc":50,"pa":33},{"m":1304,"pz":56,"pc":51,"pa":36},{"m":1306,"pz":55,"pc":52,"pa":34},{"m":1308,"pz":57,"pc":50,"pa":35},
{"m":1310,"pz":53,"pc":49,"pa":33},{"m":1312,"pz":56,"pc":52,"pa":36},{"m":1314,"pz":54,"pc":50,"pa":35},{"m":1316,"pz":57,"pc":51,"pa":37},
{"m":1318,"pz":55,"pc":50,"pa":36},{"m":1320,"pz":59,"pc":53,"pa":38},{"m":1322,"pz":56,"pc":52,"pa":40},{"m":1324,"pz":58,"pc":51,"pa":41},
{"m":1326,"pz":54,"pc":50,"pa":37},{"m":1328,"pz":56,"pc":52,"pa":38},{"m":1330,"pz":53,"pc":49,"pa":35},{"m":1332,"pz":57,"pc":51,"pa":34},
{"m":1334,"pz":54,"pc":50,"pa":36},{"m":1336,"pz":56,"pc":52,"pa":35},{"m":1338,"pz":53,"pc":48,"pa":34},{"m":1340,"pz":55,"pc":51,"pa":36},
{"m":1342,"pz":57,"pc":50,"pa":33},{"m":1344,"pz":54,"pc":52,"pa":35},{"m":1346,"pz":56,"pc":49,"pa":34},{"m":1348,"pz":53,"pc":51,"pa":36},
{"m":1350,"pz":55,"pc":50,"pa":33},{"m":1352,"pz":57,"pc":52,"pa":35},{"m":1354,"pz":53,"pc":48,"pa":34},{"m":1356,"pz":55,"pc":51,"pa":36},
{"m":1358,"pz":52,"pc":49,"pa":33},{"m":1360,"pz":56,"pc":50,"pa":35},{"m":1362,"pz":54,"pc":51,"pa":34},{"m":1364,"pz":57,"pc":49,"pa":36},
{"m":1366,"pz":53,"pc":50,"pa":33},{"m":1368,"pz":55,"pc":52,"pa":35},{"m":1370,"pz":54,"pc":48,"pa":34},{"m":1372,"pz":56,"pc":51,"pa":36},
{"m":1374,"pz":52,"pc":49,"pa":33},{"m":1376,"pz":55,"pc":50,"pa":35},{"m":1378,"pz":53,"pc":48,"pa":34},{"m":1380,"pz":56,"pc":51,"pa":36},
{"m":1382,"pz":54,"pc":49,"pa":33},{"m":1384,"pz":52,"pc":50,"pa":35},{"m":1386,"pz":55,"pc":48,"pa":34},{"m":1388,"pz":53,"pc":51,"pa":36},
{"m":1390,"pz":56,"pc":49,"pa":33},{"m":1392,"pz":54,"pc":50,"pa":35},{"m":1394,"pz":52,"pc":48,"pa":34},{"m":1396,"pz":55,"pc":51,"pa":36},
{"m":1398,"pz":53,"pc":49,"pa":33},{"m":1400,"pz":57,"pc":50,"pa":35},{"m":1402,"pz":54,"pc":48,"pa":34},{"m":1404,"pz":52,"pc":50,"pa":36},
{"m":1406,"pz":55,"pc":49,"pa":33},{"m":1408,"pz":53,"pc":51,"pa":35},{"m":1410,"pz":51,"pc":48,"pa":34},{"m":1412,"pz":54,"pc":50,"pa":36},
{"m":1414,"pz":56,"pc":49,"pa":33},{"m":1416,"pz":53,"pc":51,"pa":35},{"m":1418,"pz":52,"pc":48,"pa":34},{"m":1420,"pz":55,"pc":50,"pa":36},
{"m":1422,"pz":54,"pc":49,"pa":37},{"m":1424,"pz":52,"pc":51,"pa":35},{"m":1426,"pz":55,"pc":48,"pa":34},{"m":1428,"pz":53,"pc":50,"pa":36},
{"m":1430,"pz":51,"pc":49,"pa":33},{"m":1432,"pz":54,"pc":51,"pa":35},{"m":1434,"pz":52,"pc":48,"pa":34},{"m":1436,"pz":55,"pc":50,"pa":36},
{"m":1438,"pz":53,"pc":49,"pa":34}
],
"bot": [
{"m":0,"z":49.2,"c":45.8,"a":34.8},{"m":881,"z":49.2,"c":45.8,"a":34.8},
{"m":884,"z":51,"c":47.5,"a":40,"lo":46,"hi":60},
{"m":887,"z":54.5,"c":51,"a":43.9,"lo":47.5,"hi":76},
{"m":890,"z":55.3,"c":52,"a":42.8,"lo":48,"hi":75.5},
{"m":893,"z":53.8,"c":50.8,"a":40,"lo":47,"hi":64},
{"m":896,"z":53.5,"c":50.5,"a":41.5,"lo":46.5,"hi":76},
{"m":899,"z":53.3,"c":50.4,"a":42.8,"lo":46,"hi":62},
{"m":902,"z":53.8,"c":50.8,"a":41.7,"lo":47,"hi":66.5},
{"m":905,"z":53.5,"c":50.5,"a":43.3,"lo":46.5,"hi":60.5},
{"m":908,"z":53.9,"c":50.7,"a":42,"lo":47.5,"hi":72},
{"m":911,"z":55,"c":52.5,"a":45,"lo":47,"hi":63},
{"m":914,"z":57.5,"c":55.6,"a":49.4,"lo":48,"hi":74},
{"m":917,"z":54.5,"c":52,"a":42,"lo":46.5,"hi":73},
{"m":920,"z":51.5,"c":48.5,"a":34,"lo":45.5,"hi":58},
{"m":923,"z":50.8,"c":47.8,"a":32.2,"lo":45,"hi":56.5},
{"m":926,"z":50.8,"c":47.8,"a":32.5,"lo":45.5,"hi":59},
{"m":929,"z":51.5,"c":48.5,"a":37,"lo":45,"hi":62},
{"m":932,"z":56,"c":53.5,"a":45,"lo":46,"hi":72},
{"m":935,"z":60.5,"c":57.5,"a":53,"lo":48,"hi":66},
{"m":938,"z":58.5,"c":55.5,"a":47,"lo":47,"hi":72.5},
{"m":941,"z":54.5,"c":53,"a":43.5,"lo":46.5,"hi":65},
{"m":944,"z":53.6,"c":52.8,"a":42.2,"lo":46,"hi":72},
{"m":947,"z":55,"c":53.5,"a":45.5,"lo":47,"hi":64.5},
{"m":950,"z":56.1,"c":53.9,"a":47.2,"lo":46.5,"hi":70},
{"m":953,"z":54.8,"c":52.8,"a":43,"lo":46,"hi":66},
{"m":956,"z":56.2,"c":53.6,"a":47.2,"lo":47.5,"hi":80.5},
{"m":959,"z":54,"c":51.5,"a":42,"lo":45.5,"hi":68},
{"m":962,"z":53.9,"c":50.6,"a":39.2,"lo":45,"hi":73.5},
{"m":965,"z":56.5,"c":53.5,"a":45,"lo":46.5,"hi":68},
{"m":968,"z":60,"c":57.8,"a":51.5,"lo":48,"hi":82},
{"m":971,"z":56,"c":53.5,"a":43,"lo":47,"hi":78},
{"m":974,"z":50.6,"c":47.5,"a":33,"lo":45.5,"hi":62},
{"m":977,"z":51.2,"c":48,"a":32.2,"lo":45,"hi":58.5},
{"m":980,"z":50.8,"c":47.6,"a":32.5,"lo":45.5,"hi":61},
{"m":983,"z":51.3,"c":48.2,"a":34.5,"lo":46,"hi":57},
{"m":986,"z":51,"c":47.8,"a":35.6,"lo":45,"hi":63.5},
{"m":989,"z":51.2,"c":48,"a":33.5,"lo":45.5,"hi":58},
{"m":992,"z":51.1,"c":48.1,"a":31.7,"lo":44.5,"hi":60.5},
{"m":995,"z":51.4,"c":48.3,"a":32,"lo":45.5,"hi":56.5},
{"m":998,"z":51.3,"c":48.2,"a":33.5,"lo":45,"hi":69.5},
{"m":1001,"z":51.6,"c":48.5,"a":36.5,"lo":46,"hi":59},
{"m":1004,"z":51.2,"c":48.6,"a":37.5,"lo":45.5,"hi":62.5},
{"m":1007,"z":51.5,"c":48.8,"a":37.2,"lo":46,"hi":57.5},
{"m":1010,"z":51.4,"c":48.7,"a":35,"lo":45.5,"hi":61},
{"m":1013,"z":51.8,"c":48.9,"a":32.5,"lo":45,"hi":58},
{"m":1016,"z":50.9,"c":48,"a":31.8,"lo":44.5,"hi":63},
{"m":1019,"z":50.5,"c":47.5,"a":31.4,"lo":44,"hi":57},
{"m":1022,"z":51.2,"c":48.2,"a":31.6,"lo":45,"hi":60},
{"m":1025,"z":51.5,"c":48.6,"a":32,"lo":45.5,"hi":56},
{"m":1028,"z":50.8,"c":47.8,"a":32.2,"lo":44.5,"hi":61.5},
{"m":1031,"z":50.6,"c":47.5,"a":31.8,"lo":44,"hi":58.5},
{"m":1034,"z":50.3,"c":47.2,"a":31.3,"lo":44.5,"hi":62},
{"m":1037,"z":50.8,"c":47.8,"a":31,"lo":45,"hi":72.5},
{"m":1040,"z":50.5,"c":47.5,"a":30.9,"lo":44,"hi":59},
{"m":1043,"z":50.2,"c":47.2,"a":30.8,"lo":43.5,"hi":57},
{"m":1046,"z":50.7,"c":47.6,"a":30.9,"lo":44.5,"hi":61},
{"m":1049,"z":50.9,"c":47.9,"a":31,"lo":45,"hi":56.5},
{"m":1052,"z":50.4,"c":47.4,"a":30.8,"lo":44,"hi":59.5},
{"m":1055,"z":51,"c":48,"a":30.9,"lo":44.5,"hi":57.5},
{"m":1058,"z":50.6,"c":47.5,"a":31.3,"lo":44,"hi":66},
{"m":1061,"z":50.3,"c":47.2,"a":31.5,"lo":43.5,"hi":60},
{"m":1064,"z":50.7,"c":47.6,"a":31,"lo":44.5,"hi":58},
{"m":1067,"z":50.9,"c":47.8,"a":30.8,"lo":44,"hi":61.5},
{"m":1070,"z":51.3,"c":48.1,"a":31.5,"lo":45,"hi":63},
{"m":1073,"z":51.6,"c":48.4,"a":32.2,"lo":45.5,"hi":67.5},
{"m":1076,"z":50.8,"c":47.7,"a":31,"lo":44,"hi":58.5},
{"m":1079,"z":50.4,"c":47.2,"a":30.6,"lo":43.5,"hi":60},
{"m":1082,"z":50.7,"c":47.5,"a":30.6,"lo":44,"hi":57},
{"m":1085,"z":50.9,"c":47.7,"a":30.7,"lo":44.5,"hi":59.5},
{"m":1088,"z":50.3,"c":47,"a":30.5,"lo":44.5,"hi":56.5},
{"m":1091,"z":49.6,"c":46.5,"a":30.3,"lo":44,"hi":58},
{"m":1094,"z":49,"c":45.9,"a":30.5,"lo":43.5,"hi":55.5},
{"m":1097,"z":49.5,"c":46.3,"a":30.6,"lo":44,"hi":60},
{"m":1100,"z":50,"c":46.9,"a":30.5,"lo":44.5,"hi":57},
{"m":1103,"z":50.3,"c":47.2,"a":30.7,"lo":45,"hi":61.5},
{"m":1106,"z":50.1,"c":47,"a":30.6,"lo":44.5,"hi":58},
{"m":1109,"z":50.6,"c":47.4,"a":30.8,"lo":45,"hi":63},
{"m":1112,"z":50.2,"c":47,"a":30.9,"lo":44.5,"hi":57.5},
{"m":1115,"z":49.9,"c":46.7,"a":31,"lo":44,"hi":60},
{"m":1118,"z":50.4,"c":47.3,"a":31.4,"lo":45,"hi":67.5},
{"m":1121,"z":50.8,"c":47.6,"a":31.2,"lo":45.5,"hi":59},
{"m":1124,"z":50.1,"c":46.9,"a":30.6,"lo":44.5,"hi":62},
{"m":1127,"z":49.8,"c":46.6,"a":30.4,"lo":44,"hi":57},
{"m":1130,"z":49.6,"c":46.4,"a":30.6,"lo":44,"hi":59.5},
{"m":1133,"z":49.5,"c":46.2,"a":31.3,"lo":43.5,"hi":66.5},
{"m":1136,"z":49.2,"c":45.9,"a":30.4,"lo":43,"hi":56.5},
{"m":1139,"z":48.8,"c":45.6,"a":30.2,"lo":43,"hi":58},
{"m":1142,"z":49.6,"c":46.4,"a":30.3,"lo":44,"hi":61},
{"m":1145,"z":49.8,"c":46.6,"a":30.5,"lo":44.5,"hi":57.5},
{"m":1148,"z":49.5,"c":46.3,"a":30.4,"lo":44,"hi":63.5},
{"m":1151,"z":49.4,"c":46.1,"a":30.5,"lo":43.5,"hi":58},
{"m":1154,"z":49.6,"c":46.3,"a":30.3,"lo":44,"hi":60.5},
{"m":1157,"z":49.3,"c":46,"a":30.4,"lo":43.5,"hi":56},
{"m":1160,"z":49.7,"c":46.4,"a":30.5,"lo":44,"hi":62.5},
{"m":1163,"z":49.5,"c":46.2,"a":30.5,"lo":43.5,"hi":58.5},
{"m":1166,"z":49.6,"c":46.3,"a":30.3,"lo":44,"hi":61},
{"m":1169,"z":49.2,"c":45.9,"a":30.2,"lo":43.5,"hi":57},
{"m":1172,"z":49,"c":45.7,"a":30.6,"lo":43,"hi":59.5},
{"m":1175,"z":49.3,"c":46,"a":30.3,"lo":43.5,"hi":56.5},
{"m":1178,"z":48.8,"c":45.5,"a":30,"lo":43,"hi":60},
{"m":1181,"z":49.1,"c":45.8,"a":30.3,"lo":43.5,"hi":57.5},
{"m":1184,"z":48.7,"c":45.4,"a":30.6,"lo":43,"hi":61.5},
{"m":1187,"z":48.5,"c":45.2,"a":30.3,"lo":42.5,"hi":56},
{"m":1190,"z":48.7,"c":45.4,"a":30.1,"lo":43,"hi":58.5},
{"m":1193,"z":48.3,"c":45,"a":30,"lo":42.5,"hi":55.5},
{"m":1196,"z":48.5,"c":45.2,"a":30.1,"lo":43,"hi":59},
{"m":1199,"z":48.2,"c":44.9,"a":30,"lo":42.5,"hi":57},
{"m":1202,"z":48.6,"c":45.3,"a":30.1,"lo":43,"hi":60.5},
{"m":1205,"z":48.4,"c":45.1,"a":30,"lo":42.5,"hi":56.5},
{"m":1208,"z":48.8,"c":45.5,"a":30.2,"lo":43,"hi":58},
{"m":1211,"z":48.9,"c":45.6,"a":30.1,"lo":43.5,"hi":61},
{"m":1214,"z":48.6,"c":45.3,"a":30,"lo":43,"hi":57.5},
{"m":1217,"z":48.9,"c":45.6,"a":30.2,"lo":43,"hi":59.5},
{"m":1220,"z":49.1,"c":45.8,"a":30.1,"lo":43.5,"hi":56},
{"m":1223,"z":48.7,"c":45.4,"a":30,"lo":43,"hi":62},
{"m":1226,"z":48.3,"c":45,"a":29.8,"lo":42.5,"hi":57},
{"m":1229,"z":48,"c":44.7,"a":29.9,"lo":42,"hi":59},
{"m":1232,"z":48.5,"c":45.2,"a":30.3,"lo":42.5,"hi":55.5},
{"m":1235,"z":49.4,"c":46,"a":30.6,"lo":43.5,"hi":61.5},
{"m":1238,"z":48.9,"c":45.6,"a":30.2,"lo":43,"hi":58},
{"m":1241,"z":48.6,"c":45.3,"a":30,"lo":42.5,"hi":60.5},
{"m":1244,"z":48.3,"c":45,"a":29.9,"lo":42.5,"hi":56.5},
{"m":1247,"z":48.1,"c":44.8,"a":30.1,"lo":42,"hi":58.5},
{"m":1250,"z":48.4,"c":45.1,"a":30,"lo":42.5,"hi":55.5},
{"m":1253,"z":48.2,"c":44.9,"a":29.9,"lo":42,"hi":60},
{"m":1256,"z":48,"c":44.7,"a":30,"lo":42,"hi":57},
{"m":1259,"z":48.3,"c":45,"a":30.1,"lo":42.5,"hi":59.5},
{"m":1262,"z":48.1,"c":44.8,"a":30,"lo":42,"hi":56},
{"m":1265,"z":48.4,"c":45.1,"a":30.2,"lo":42.5,"hi":61},
{"m":1268,"z":48,"c":44.7,"a":30.1,"lo":42,"hi":57.5},
{"m":1271,"z":48.3,"c":45,"a":30.3,"lo":42.5,"hi":59},
{"m":1274,"z":48.5,"c":45.2,"a":30.2,"lo":42.5,"hi":55.5},
{"m":1277,"z":48.3,"c":45,"a":30.5,"lo":42.5,"hi":60},
{"m":1280,"z":48.8,"c":45.5,"a":31,"lo":43,"hi":58},
{"m":1283,"z":48.9,"c":45.6,"a":31.3,"lo":43,"hi":62.5},
{"m":1286,"z":48.6,"c":45.2,"a":30.8,"lo":42.5,"hi":57},
{"m":1289,"z":48,"c":44.6,"a":30.3,"lo":42,"hi":59.5},
{"m":1292,"z":47.4,"c":44,"a":30.1,"lo":41.5,"hi":56.5},
{"m":1295,"z":47.2,"c":43.8,"a":30.2,"lo":41.5,"hi":58},
{"m":1298,"z":47.6,"c":44.2,"a":30.4,"lo":42,"hi":55.5},
{"m":1301,"z":47.9,"c":44.5,"a":30.3,"lo":42,"hi":60},
{"m":1304,"z":48,"c":44.6,"a":30.2,"lo":42.5,"hi":57},
{"m":1307,"z":47.6,"c":44.2,"a":30.1,"lo":42,"hi":59},
{"m":1310,"z":47.9,"c":44.5,"a":30.3,"lo":42,"hi":56},
{"m":1313,"z":47.5,"c":44.1,"a":30.2,"lo":41.5,"hi":58.5},
{"m":1316,"z":47,"c":43.6,"a":30.4,"lo":41.5,"hi":63.5},
{"m":1319,"z":46.6,"c":43.3,"a":30.6,"lo":41,"hi":57},
{"m":1322,"z":46.8,"c":43.5,"a":31,"lo":41.5,"hi":59.5},
{"m":1325,"z":47.2,"c":43.8,"a":30.7,"lo":41.5,"hi":56},
{"m":1328,"z":47.5,"c":44,"a":30.2,"lo":42,"hi":58},
{"m":1331,"z":47.1,"c":43.7,"a":29.8,"lo":41.5,"hi":55.5},
{"m":1334,"z":47.4,"c":44,"a":29.6,"lo":42,"hi":57.5},
{"m":1337,"z":47,"c":43.6,"a":29.4,"lo":41.5,"hi":60},
{"m":1340,"z":46.8,"c":43.4,"a":29.5,"lo":41,"hi":56},
{"m":1343,"z":46.5,"c":43.1,"a":29.4,"lo":41,"hi":58.5},
{"m":1346,"z":46.7,"c":43.3,"a":29.5,"lo":41.5,"hi":55},
{"m":1349,"z":46.6,"c":43.2,"a":29.4,"lo":41,"hi":57.5},
{"m":1352,"z":46.2,"c":42.9,"a":29.3,"lo":41,"hi":56},
{"m":1355,"z":45.9,"c":42.6,"a":29.2,"lo":40.5,"hi":59},
{"m":1358,"z":45.8,"c":42.5,"a":29.2,"lo":40.5,"hi":55.5},
{"m":1361,"z":46.1,"c":42.8,"a":29.3,"lo":41,"hi":58},
{"m":1364,"z":46.4,"c":43,"a":29.2,"lo":41,"hi":56.5},
{"m":1367,"z":46.2,"c":42.9,"a":29.1,"lo":41,"hi":59.5},
{"m":1370,"z":45.9,"c":42.6,"a":29,"lo":40.5,"hi":55},
{"m":1373,"z":45.6,"c":42.3,"a":28.9,"lo":40.5,"hi":57.5},
{"m":1376,"z":45.2,"c":42,"a":28.8,"lo":40,"hi":62},
{"m":1379,"z":44.9,"c":41.7,"a":28.7,"lo":40,"hi":56},
{"m":1382,"z":45.2,"c":42,"a":28.8,"lo":40.5,"hi":58.5},
{"m":1385,"z":46,"c":42.7,"a":29,"lo":41,"hi":55.5},
{"m":1388,"z":46.5,"c":43.2,"a":29.2,"lo":41,"hi":57},
{"m":1391,"z":46.4,"c":43,"a":29.1,"lo":41,"hi":59.5},
{"m":1394,"z":46.5,"c":43.1,"a":29.2,"lo":41.5,"hi":55.5},
{"m":1397,"z":46.6,"c":43.3,"a":29,"lo":41,"hi":57},
{"m":1400,"z":46.2,"c":43,"a":28.8,"lo":40.5,"hi":54.5},
{"m":1403,"z":45.5,"c":42.2,"a":28.6,"lo":40,"hi":56},
{"m":1406,"z":44.8,"c":41.6,"a":28.5,"lo":39.5,"hi":58.5},
{"m":1409,"z":44.4,"c":41.3,"a":28.4,"lo":39,"hi":54},
{"m":1412,"z":44.7,"c":41.5,"a":28.5,"lo":39.5,"hi":56.5},
{"m":1415,"z":45.3,"c":42,"a":28.4,"lo":40,"hi":55},
{"m":1418,"z":45.7,"c":42.4,"a":28.3,"lo":40,"hi":57.5},
{"m":1421,"z":46,"c":42.7,"a":28.4,"lo":40.5,"hi":54.5},
{"m":1424,"z":46.4,"c":43,"a":28.3,"lo":40.5,"hi":56},
{"m":1427,"z":46.3,"c":42.9,"a":28.2,"lo":40.5,"hi":54},
{"m":1430,"z":45.6,"c":42.3,"a":28.3,"lo":40,"hi":55.5},
{"m":1433,"z":45,"c":41.8,"a":28.2,"lo":39.5,"hi":53.5},
{"m":1436,"z":44.6,"c":41.5,"a":28.2,"lo":39.5,"hi":55},
{"m":1439,"z":44.4,"c":41.3,"a":28.2,"lo":39,"hi":54}
]
},
"vconcat": [
{
 "width": 2285, "height": 504,
 "title": {"text": "average and peak noise level (1 min sampling)", "frame": "group"},
 "data": {"name": "top"},
 "resolve": {"axis": {"y": "independent"}},
 "layer": [
  {
   "transform": [{"fold": ["pz","pc","pa"], "as": ["s","v"]}],
   "mark": {"type": "circle", "size": 7, "opacity": 1},
   "encoding": {
    "x": {"field": "m", "type": "quantitative", "scale": {"domain": [0,1440], "nice": false, "zero": false},
      "axis": {"title": "time", "titlePadding": 6, "values": [0,30,60,90,120,150,180,210,240,270,300,330,360,390,420,450,480,510,540,570,600,630,660,690,720,750,780,810,840,870,900,930,960,990,1020,1050,1080,1110,1140,1170,1200,1230,1260,1290,1320,1350,1380,1410],
       "labelExpr": "datum.value % 120 === 0 ? ((datum.value < 600 ? '0' : '') + (datum.value / 60) + ':00') : ''",
       "labelPadding": 5,
       "tickSize": {"condition": {"test": "datum.value % 120 === 0", "value": 7}, "value": 4},
       "grid": true,
       "gridColor": {"condition": {"test": "datum.value % 120 === 0", "value": "#b0b0b0"}, "value": "#cfcfcf"},
       "gridDash": {"condition": {"test": "datum.value % 120 === 0", "value": []}, "value": [3,2]},
       "gridWidth": {"condition": {"test": "datum.value % 120 === 0", "value": 1.2}, "value": 0.8}}},
    "y": {"field": "v", "type": "quantitative", "scale": {"domain": [24,108], "nice": false, "zero": false},
      "axis": {"orient": "left", "title": "dB SPL", "titlePadding": 9, "labelPadding": 5, "values": [24,27,30,33,36,39,42,45,48,51,54,57,60,63,66,69,72,75,78,81,84,87,90,93,96,99,102,105,108],
       "labelExpr": "datum.value % 12 === 0 ? datum.value : ''",
       "tickSize": {"condition": {"test": "datum.value % 12 === 0", "value": 7}, "value": 4},
       "grid": true,
       "gridColor": {"condition": {"test": "datum.value % 12 === 0", "value": "#b0b0b0"}, "value": "#cfcfcf"},
       "gridDash": {"condition": {"test": "datum.value % 12 === 0", "value": []}, "value": [3,2]},
       "gridWidth": {"condition": {"test": "datum.value % 12 === 0", "value": 1.8}, "value": 0.8}}},
    "fill": {"field": "s", "type": "nominal",
      "scale": {"domain": ["pz","pc","pa"], "range": ["#1E90FF","#FF00FF","#2E8B57"]},
      "legend": {"title": null, "symbolType": "circle", "symbolSize": 22, "symbolStrokeWidth": 0, "symbolOffset": 5, "labelOffset": 13, "rowPadding": 2,
        "labelExpr": "({'pz':'peak dB(Z)','pc':'peak dB(C)','pa':'peak dB(A)'})[datum.value]"}}
   }
  },
  {
   "data": {"name": "pk2"},
   "transform": [{"fold": ["pz","pc","pa"], "as": ["s","v"]}],
   "mark": {"type": "circle", "size": 7, "opacity": 1},
   "encoding": {
    "x": {"field": "m", "type": "quantitative"},
    "y": {"field": "v", "type": "quantitative", "axis": null},
    "fill": {"field": "s", "type": "nominal"}
   }
  },
  {
   "transform": [{"fold": ["z","c","a"], "as": ["s","v"]}],
   "mark": {"type": "line", "strokeWidth": 1.4},
   "encoding": {
    "x": {"field": "m", "type": "quantitative"},
    "y": {"field": "v", "type": "quantitative",
      "axis": {"orient": "right", "title": "dB SPL", "titleAngle": 270, "titlePadding": 10, "labelPadding": 4, "grid": false, "values": [24,27,30,33,36,39,42,45,48,51,54,57,60,63,66,69,72,75,78,81,84,87,90,93,96,99,102,105,108],
       "labelExpr": "datum.value % 12 === 0 ? datum.value : ''",
       "tickSize": {"condition": {"test": "datum.value % 12 === 0", "value": 7}, "value": 4}}},
    "stroke": {"field": "s", "type": "nominal",
      "scale": {"domain": ["z","c","a"], "range": ["#4682B4","#DA70D6","#9ACD32"]},
      "legend": {"title": null, "symbolType": "M-2.75,0H2.75", "symbolSize": 64, "symbolStrokeWidth": 3.5, "symbolOffset": 6, "labelOffset": 12,
        "labelExpr": "({'z':'avg dB(Z)','c':'avg dB(C)','a':'avg dB(A)'})[datum.value]"}}
   }
  }
 ]
},
{
 "width": 2285, "height": 504,
 "title": {"text": "average noise level (5 min with 15s min/max dB envelope)", "frame": "group"},
 "data": {"name": "bot"},
 "resolve": {"axis": {"y": "independent"}},
 "layer": [
  {
   "mark": {"type": "area", "color": "#F08080", "opacity": 0.25},
   "encoding": {
    "x": {"field": "m", "type": "quantitative", "scale": {"domain": [0,1440], "nice": false, "zero": false},
      "axis": {"title": "time", "titlePadding": 6, "values": [0,30,60,90,120,150,180,210,240,270,300,330,360,390,420,450,480,510,540,570,600,630,660,690,720,750,780,810,840,870,900,930,960,990,1020,1050,1080,1110,1140,1170,1200,1230,1260,1290,1320,1350,1380,1410],
       "labelExpr": "datum.value % 120 === 0 ? ((datum.value < 600 ? '0' : '') + (datum.value / 60) + ':00:00') : ''",
       "labelPadding": 5,
       "tickSize": {"condition": {"test": "datum.value % 120 === 0", "value": 7}, "value": 4},
       "grid": true,
       "gridColor": {"condition": {"test": "datum.value % 120 === 0", "value": "#b0b0b0"}, "value": "#cfcfcf"},
       "gridDash": {"condition": {"test": "datum.value % 120 === 0", "value": []}, "value": [3,2]},
       "gridWidth": {"condition": {"test": "datum.value % 120 === 0", "value": 1.2}, "value": 0.8}}},
    "y": {"field": "lo", "type": "quantitative", "scale": {"domain": [24,108], "nice": false, "zero": false},
      "axis": {"orient": "left", "title": "dB SPL", "titlePadding": 9, "labelPadding": 5, "values": [24,27,30,33,36,39,42,45,48,51,54,57,60,63,66,69,72,75,78,81,84,87,90,93,96,99,102,105,108],
       "labelExpr": "datum.value % 12 === 0 ? datum.value : ''",
       "tickSize": {"condition": {"test": "datum.value % 12 === 0", "value": 7}, "value": 4},
       "grid": true,
       "gridColor": {"condition": {"test": "datum.value % 12 === 0", "value": "#b0b0b0"}, "value": "#cfcfcf"},
       "gridDash": {"condition": {"test": "datum.value % 12 === 0", "value": []}, "value": [3,2]},
       "gridWidth": {"condition": {"test": "datum.value % 12 === 0", "value": 1.8}, "value": 0.8}}},
    "y2": {"field": "hi"}
   }
  },
  {
   "transform": [{"fold": ["z","c","a"], "as": ["s","v"]}],
   "mark": {"type": "line", "strokeWidth": 1.6},
   "encoding": {
    "x": {"field": "m", "type": "quantitative"},
    "y": {"field": "v", "type": "quantitative",
      "axis": {"orient": "right", "title": "dB SPL", "titleAngle": 270, "titlePadding": 10, "labelPadding": 4, "grid": false, "values": [24,27,30,33,36,39,42,45,48,51,54,57,60,63,66,69,72,75,78,81,84,87,90,93,96,99,102,105,108],
       "labelExpr": "datum.value % 12 === 0 ? datum.value : ''",
       "tickSize": {"condition": {"test": "datum.value % 12 === 0", "value": 7}, "value": 4}}},
    "color": {"field": "s", "type": "nominal",
      "scale": {"domain": ["z","c","a"], "range": ["#DC143C","#FF8C00","#FFD700"]},
      "legend": {"title": null, "symbolType": "M-2.75,0H2.75", "symbolSize": 64, "symbolStrokeWidth": 4, "symbolOffset": 5, "labelOffset": 12, "rowPadding": -5,
        "labelExpr": "({'z':'dB(Z)','c':'dB(C)','a':'dB(A)'})[datum.value]"}}
   }
  }
 ]
}
],
"resolve": {"scale": {"color": "independent", "fill": "independent", "stroke": "independent"}, "legend": {"color": "independent", "fill": "independent", "stroke": "independent"}}
}
